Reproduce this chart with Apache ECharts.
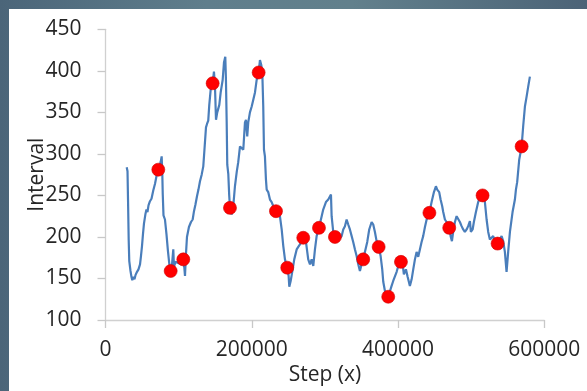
<!DOCTYPE html>
<html>
<head>
<meta charset="utf-8">
<script src="https://cdn.jsdelivr.net/npm/echarts@6/dist/echarts.min.js"></script>
<style>
html,body{margin:0;padding:0;width:587px;height:391px;overflow:hidden;
background:linear-gradient(90deg,#4b6579 0%,#5f7e8c 35%,#62808c 60%,#4c6377 100%);}
#frame{position:absolute;left:9px;top:9px;width:578px;height:382px;background:#ffffff;}
#chart{width:578px;height:382px;}
</style>
</head>
<body>
<div id="frame"><div id="chart"></div></div>
<script>
// Blue trace (step, interval)
const lineX = [29000,30100,30800,31700,32500,34200,35500,36600,38300,39600,41000,43100,45100,47200,48500,49900,51300,52600,54700,56000,57400,58800,60800,62900,65300,67700,69700,72200,74200,75600,76800,77600,78300,79300,81300,83400,85400,87200,89100,90900,92700,93600,95700,98400,101200,103900,106400,107700,108700,110000,111400,114100,116900,119200,121000,123000,125100,127100,129200,131500,133700,135300,137400,138800,140500,141900,143800,146500,148300,149700,151100,152800,155600,157500,160200,162000,163800,164700,165700,166500,167900,169100,170200,172500,174700,177000,179400,181500,183900,186200,188400,190700,192100,193800,195200,197500,199900,202000,204400,206700,209400,211200,213000,214400,215700,216700,218000,219400,220400,222500,224900,227200,229400,233100,235800,238500,240900,243100,245400,248500,250400,251300,253200,255900,258100,261400,263600,265900,270400,274100,277200,279600,281900,284100,286400,288700,291900,295600,297700,301400,304600,308300,309200,311400,313700,318200,322900,325100,327400,329700,331900,334200,336600,338700,341100,343400,345600,347900,350200,352400,354700,357900,360600,363900,366100,368400,370700,373500,376200,378400,379800,382100,384400,386600,388900,391200,393400,395800,398100,400300,404000,406300,408000,410800,413100,416200,418600,420800,423100,425400,427600,429900,432200,434400,436800,439100,442900,445900,449100,451800,453600,456300,458200,460400,461800,464100,466400,470000,471900,473700,475400,477800,480100,482300,484600,486900,489100,491400,493800,495900,498300,499600,502000,503700,506500,509600,511900,515600,518800,521100,523300,525600,527900,530100,532400,536100,539300,541600,543800,546100,548400,550600,553000,556600,559800,561200,562900,565700,569000,571100,573500,575800,578000,580300];
const lineY = [284,279,245,197,171,159,152,148,152,149,154,158,161,167,177,189,204,216,228,233,230,238,243,246,256,264,273,281,286,291,297,279,251,226,221,203,183,168,159,166,185,164,170,171,168,174,173,164,153,179,200,212,218,221,231,239,249,257,267,275,285,305,332,336,340,359,377,385,399,381,341,350,359,374,389,410,417,389,338,287,276,251,235,227,237,261,278,290,309,311,305,338,341,321,338,350,357,365,374,389,398,413,407,398,357,305,297,269,257,254,245,242,237,231,228,225,209,189,173,163,153,140,147,161,173,185,188,191,199,194,173,167,173,165,185,201,211,225,233,242,245,251,225,206,200,197,201,209,213,221,215,209,201,194,185,177,167,159,167,173,182,194,209,218,215,206,195,188,177,161,146,135,131,128,129,141,147,149,158,165,170,167,155,161,152,141,149,161,173,182,176,185,194,201,212,221,229,242,254,261,257,254,245,237,230,221,218,211,201,195,206,218,225,224,218,213,209,206,209,213,219,206,209,218,230,242,248,250,242,221,206,197,195,201,195,192,197,201,195,182,158,182,206,230,245,257,266,293,309,333,357,369,381,393];
// Red sample points
const dotX = [72200,89100,106400,146500,170200,209400,233100,248500,270400,291900,313700,352400,373500,386600,404000,442900,470000,515600,536100,569000];
const dotY = [281,159,173,385,235,398,231,163,199,211,200,173,188,128,170,229,211,250,192,309];
// Axis ticks
const xTicks = [0, 200000, 400000, 600000];
const yTicks = [100, 150, 200, 250, 300, 350, 400, 450];
const xName = 'Step (x)';
const yName = 'Interval';

const lineData = lineX.map((x, i) => [x, lineY[i]]);
const dotData = dotX.map((x, i) => [x, dotY[i]]);

const chart = echarts.init(document.getElementById('chart'), null, {renderer: 'canvas'});
const font = '"Open Sans", sans-serif';
const axisCommon = {
  axisLine: {show: true, lineStyle: {color: '#d0d0d0', width: 1.3}},
  axisTick: {show: true, inside: false, length: 8, lineStyle: {color: '#c8c8c8', width: 1.3}},
  splitLine: {show: false},
  nameLocation: 'middle',
  nameMoveOverlap: false,
  nameTextStyle: {fontFamily: font, fontSize: 21, color: '#262626'}
};
chart.setOption({
  backgroundColor: '#ffffff',
  animation: false,
  grid: {left: 96.5, right: 42.7, top: 20.3, bottom: 70, containLabel: false},
  xAxis: Object.assign({}, axisCommon, {
    type: 'value', min: xTicks[0], max: xTicks[xTicks.length - 1], interval: xTicks[1] - xTicks[0],
    name: xName, nameGap: 45,
    axisLabel: {fontFamily: font, fontSize: 21, color: '#262626', margin: 20,
      showMinLabel: true, showMaxLabel: true, formatter: v => String(v)}
  }),
  yAxis: Object.assign({}, axisCommon, {
    type: 'value', min: yTicks[0], max: yTicks[yTicks.length - 1], interval: yTicks[1] - yTicks[0],
    name: yName, nameGap: 58, nameRotate: 90,
    axisLabel: {fontFamily: font, fontSize: 21, color: '#262626', margin: 24, formatter: v => String(v)}
  }),
  series: [
    {type: 'line', data: lineData, showSymbol: false, symbol: 'none',
     lineStyle: {color: '#4a7ebb', width: 2.2}, z: 2},
    {type: 'scatter', data: dotData, symbol: 'circle', symbolSize: 13,
     itemStyle: {color: '#ff0000', opacity: 1, borderColor: '#d00000', borderWidth: 0.6}, z: 3}
  ]
});
</script>
</body>
</html>
